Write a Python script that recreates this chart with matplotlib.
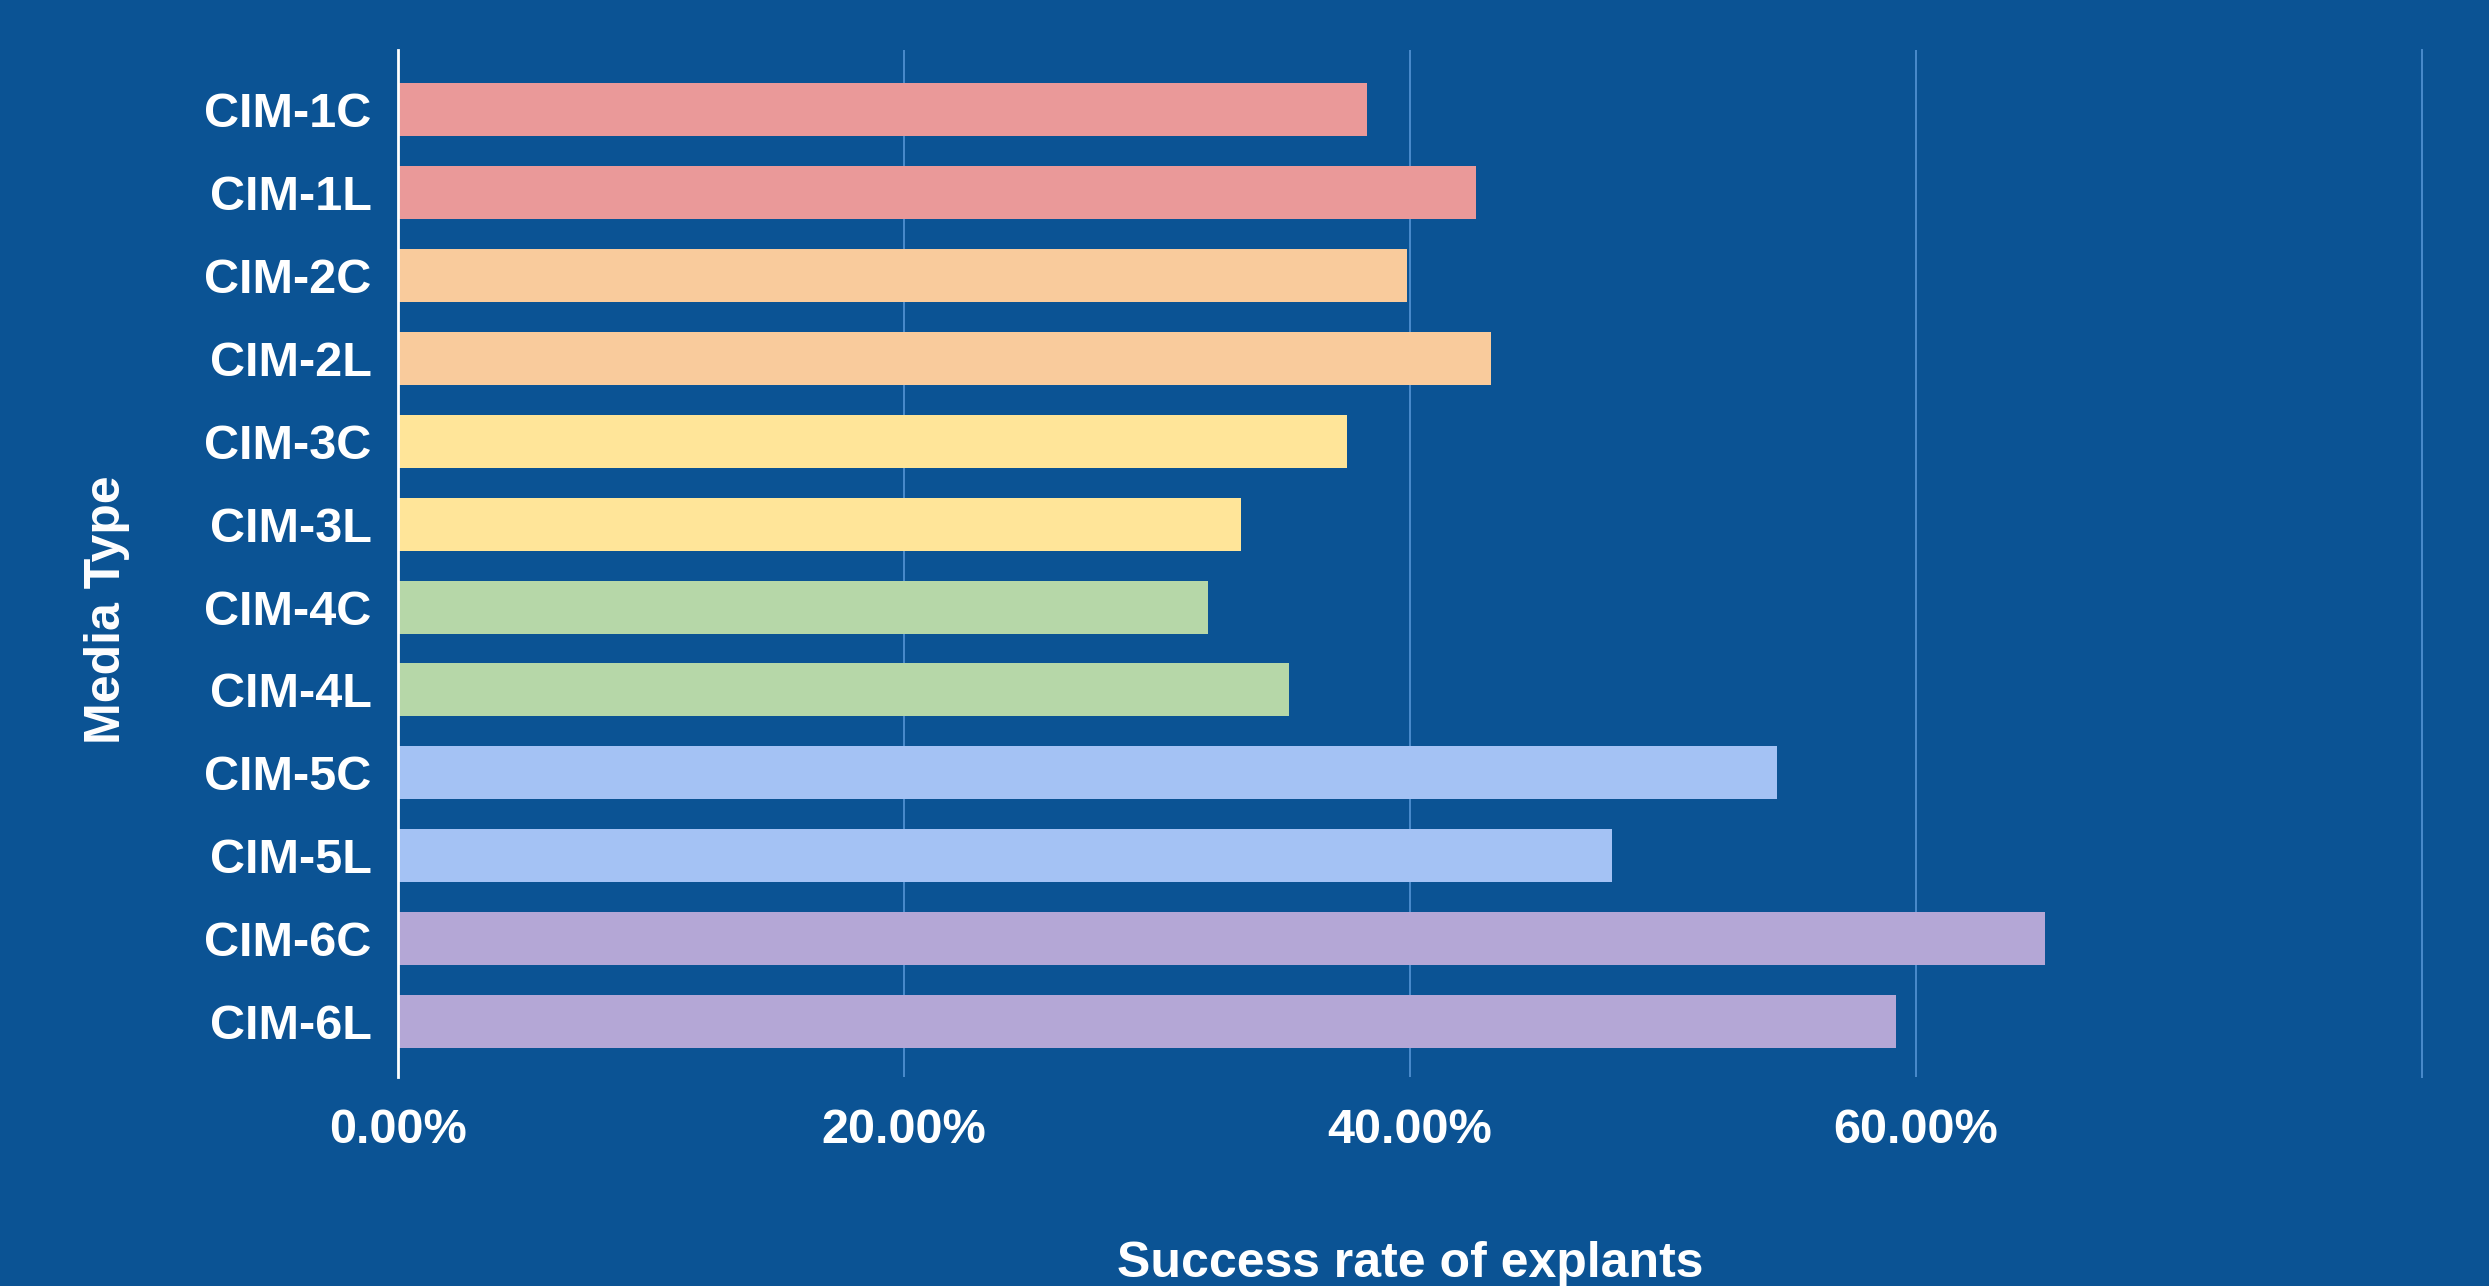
import matplotlib
matplotlib.use("Agg")
import matplotlib.pyplot as plt
from matplotlib.ticker import FuncFormatter

# =============================================================================
# data (success rate in %)
# =============================================================================
media = ["CIM-1C", "CIM-1L", "CIM-2C", "CIM-2L", "CIM-3C", "CIM-3L",
         "CIM-4C", "CIM-4L", "CIM-5C", "CIM-5L", "CIM-6C", "CIM-6L"]
success = [38.3, 42.6, 39.9, 43.2, 37.5, 33.3, 32.0, 35.2, 54.5, 48.0, 65.1, 59.2]
bar_colors = ["#ea9999", "#ea9999", "#f9cb9c", "#f9cb9c", "#ffe599", "#ffe599",
              "#b6d7a8", "#b6d7a8", "#a4c2f4", "#a4c2f4", "#b4a7d6", "#b4a7d6"]
x_ticks = [0, 20, 40, 60]

bg = "#0b5394"
grid_col = "#4a8bcc"
plt.rcParams['font.family'] = ['Liberation Sans', 'DejaVu Sans']
plt.rcParams['font.weight'] = 'bold'

fig = plt.figure(figsize=(24.89, 12.86), dpi=100, facecolor=bg)
ax = fig.add_axes([0.1599, 0.1625, 0.8132, 0.7986], facecolor=bg)

ypos = list(range(len(media)))
ax.barh(ypos, success, height=0.64, color=bar_colors, zorder=3)

ax.set_ylim(11.67, -0.72)
ax.set_xlim(0, 80)
ax.set_yticks(ypos)
ax.set_yticklabels(media)
ax.set_xticks(x_ticks)
ax.xaxis.set_major_formatter(FuncFormatter(lambda v, p: "%.2f%%" % v))

ax.grid(axis='x', color=grid_col, linewidth=1.4, zorder=0)
ax.tick_params(axis='y', length=0, pad=19, labelsize=35, labelcolor='white')
ax.tick_params(axis='x', length=0, pad=22, labelsize=35, labelcolor='white')

for s in ['top', 'bottom']:
    ax.spines[s].set_visible(False)
ax.spines['left'].set_color('white')
ax.spines['left'].set_linewidth(2)
ax.spines['left'].set_zorder(4)
# 80% line looks like the other gridlines
ax.spines['right'].set_color(grid_col)
ax.spines['right'].set_linewidth(1.4)

ax.set_xlabel("Success rate of explants", fontsize=36, color='white', fontweight='bold')
ax.xaxis.label.set_va('baseline')
ax.xaxis.set_label_coords(0.5, -0.1947)
ax.set_ylabel("Media Type", fontsize=36, color='white', fontweight='bold')
ax.yaxis.label.set_va('baseline')
ax.yaxis.set_label_coords(-0.1374, 0.4547)

fig.savefig("out.png", dpi=100, facecolor=bg)
